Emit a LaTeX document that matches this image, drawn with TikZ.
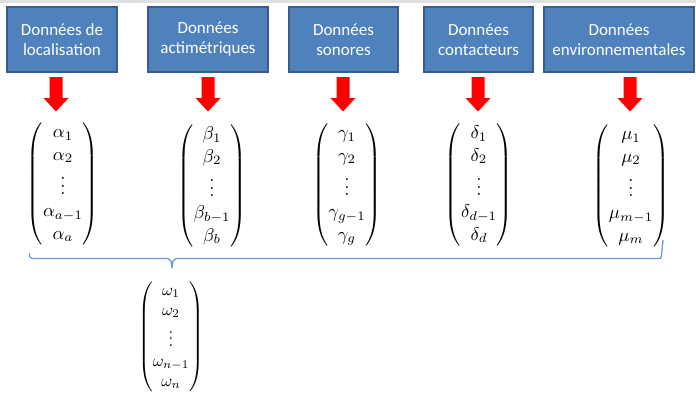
\documentclass[tikz,border=0pt]{standalone}
\usepackage{amsmath}
\usepackage{fontspec}
\newfontfamily\boxfont{Carlito}
\definecolor{boxfill}{HTML}{4F81BD}
\definecolor{boxline}{HTML}{385D8A}
\definecolor{bracecol}{HTML}{6F9BD6}
\begin{document}
\begin{tikzpicture}[x=1pt,y=-1pt,
  databox/.style={draw=boxline, line width=1.2pt, fill=boxfill, text=white,
    font=\boxfont\fontsize{17}{20}\selectfont, align=center,
    minimum height=65pt, inner sep=0pt},
  vec/.style={inner sep=0pt, scale=1.85},
  downarrow/.style={fill=red, draw=none}]
\useasboundingbox (0,0) rectangle (696,397);
\fill[white] (0,0) rectangle (696,397);
% faint rule along the top edge
\fill[black!12] (0,0) rectangle (696,2.5);

% source boxes
\node[databox, minimum width=110pt] (b1) at (62,39.5) {Données de\\localisation};
\node[databox, minimum width=120pt] (b2) at (208,39.5) {Données\\actimétriques};
\node[databox, minimum width=109pt] (b3) at (343.5,39.5) {Données\\sonores};
\node[databox, minimum width=109pt] (b4) at (478.5,39.5) {Données\\contacteurs};
\node[databox, minimum width=150pt] (b5) at (619,39.5) {Données\\environnementales};

% block arrows below each box
\foreach \i/\cx in {1/56, 2/208, 3/343, 4/478, 5/630}{
  \coordinate (a\i) at (\cx,77);
  \fill[downarrow] (a\i) ++(-6.5,0) -- ++(13,0) -- ++(0,21) -- ++(6,0)
    -- ++(-12.5,13.5) -- ++(-12.5,-13.5) -- ++(6,0) -- cycle;
}

% data vectors
\node[vec] (v1) at (63,184) {$\begin{pmatrix}\alpha_1\\ \alpha_2\\ \vdots\\ \alpha_{a-1}\\ \alpha_a\end{pmatrix}$};
\node[vec] (v2) at (212,186) {$\begin{pmatrix}\beta_1\\ \beta_2\\ \vdots\\ \beta_{b-1}\\ \beta_b\end{pmatrix}$};
\node[vec] (v3) at (347,185) {$\begin{pmatrix}\gamma_1\\ \gamma_2\\ \vdots\\ \gamma_{g-1}\\ \gamma_g\end{pmatrix}$};
\node[vec] (v4) at (479,185) {$\begin{pmatrix}\delta_1\\ \delta_2\\ \vdots\\ \delta_{d-1}\\ \delta_d\end{pmatrix}$};
\node[vec] (v5) at (631,186) {$\begin{pmatrix}\mu_1\\ \mu_2\\ \vdots\\ \mu_{m-1}\\ \mu_m\end{pmatrix}$};

% gathering brace
\coordinate (brl) at (29.5,253);
\coordinate (brr) at (663,240);
\coordinate (brtip) at (172,268);
\draw[bracecol, line width=1.3pt, line join=round]
  (brl) -- (29.5,256) to[out=-90,in=180] (33,258.5) -- (168,258.5)
  -- (171,261) -- (brtip) -- (173,261) -- (176,258.5) -- (660,258.5)
  to[out=0,in=-95] (661.5,255) -- (brr);

% combined vector
\node[vec, scale=0.9, anchor=north] (w) at (171,281) {$\begin{pmatrix}\omega_1\\ \omega_2\\ \vdots\\ \omega_{n-1}\\ \omega_n\end{pmatrix}$};
\end{tikzpicture}
\end{document}
